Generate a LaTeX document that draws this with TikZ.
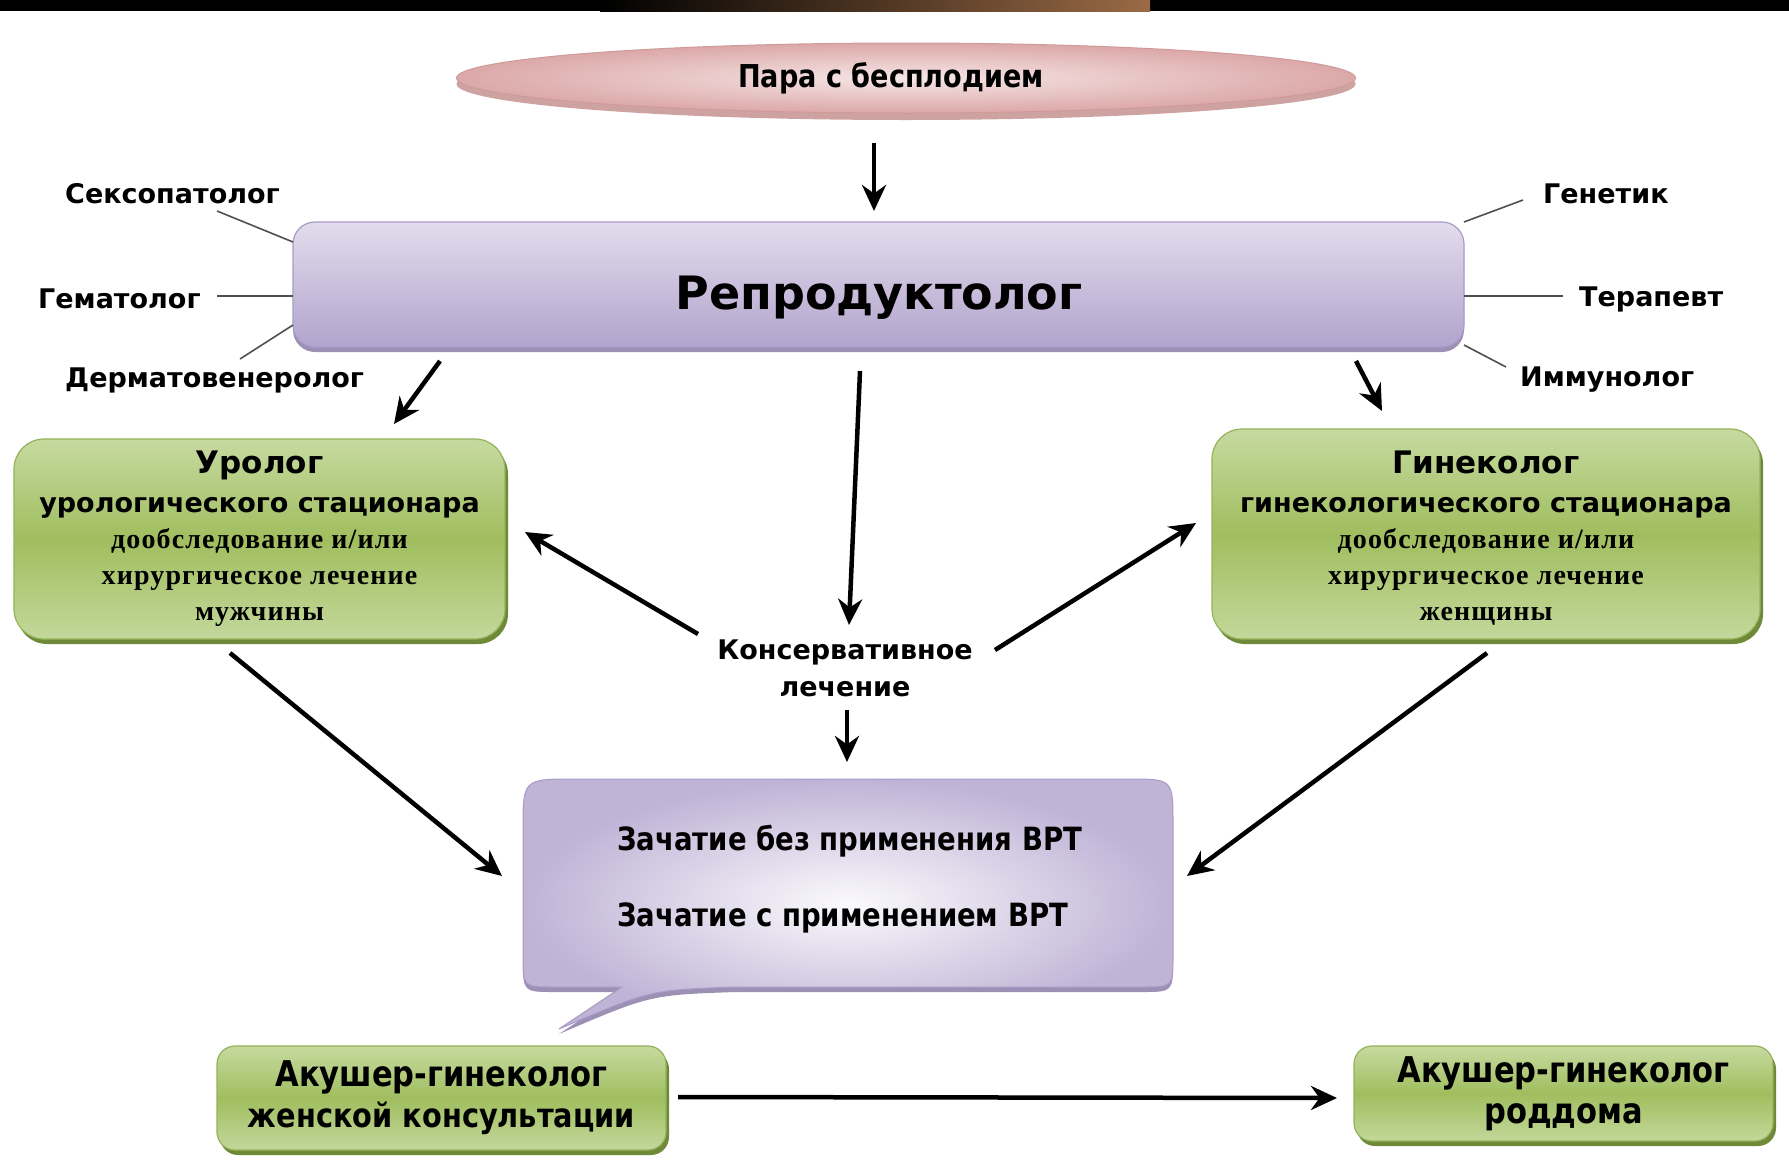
\documentclass[tikz,border=0pt]{standalone}
\usepackage{fontspec}
\setmainfont{DejaVu Sans}
\newfontfamily\condf[FakeStretch=0.86]{DejaVu Sans}
\newfontfamily\serf[LetterSpace=4]{Liberation Serif}
\usetikzlibrary{arrows.meta,shadows,shapes.geometric}
\definecolor{pborder}{HTML}{A99BC8}
\definecolor{ptop}{HTML}{E2DCEC}
\definecolor{pbot}{HTML}{B2A4CD}
\definecolor{pshadow}{HTML}{9C90B5}
\definecolor{bout}{HTML}{BFB3D6}
\definecolor{gtop}{HTML}{C6DAA0}
\definecolor{gmid}{HTML}{A0BE5F}
\definecolor{gbot}{HTML}{C3D89B}
\definecolor{gborder}{HTML}{94B35A}
\definecolor{gshadow}{HTML}{6E8A38}
\definecolor{einner}{HTML}{F6E6E6}
\definecolor{eouter}{HTML}{DCA8A8}
\definecolor{eborder}{HTML}{CF9A9A}
\definecolor{erim}{HTML}{CFA2A2}
\definecolor{connc}{HTML}{505050}
\definecolor{bandbrown}{HTML}{9A6A45}
\newcommand{\lblf}{\bfseries\fontsize{27}{32}\selectfont}
\newcommand{\ttlf}{\bfseries\fontsize{31}{37}\selectfont}
\newcommand{\subf}{\bfseries\fontsize{27}{37}\selectfont}
\newcommand{\serff}{\serf\bfseries\fontsize{28}{36}\selectfont}
\begin{document}
\begin{tikzpicture}[x=1pt,y=-1pt,
  lbl/.style={font=\lblf, inner sep=0pt},
  greenbox/.style={draw=gborder, line width=1.2pt, rounded corners=30pt,
    top color=gtop, bottom color=gbot, middle color=gmid,
    drop shadow={shadow xshift=3pt, shadow yshift=-5pt, fill=gshadow, opacity=1},
    inner sep=0pt, align=center, font=\fontsize{27}{36}\selectfont},
  arr/.style={line width=4.5pt, -{Stealth[length=26pt,width=24pt]}},
  conn/.style={draw=connc, line width=1.6pt},
  condtext/.style={font=\condf\bfseries\fontsize{32}{37}\selectfont, inner sep=0pt}
]
\useasboundingbox (0,0) rectangle (1789,1173);
\fill[white] (0,0) rectangle (1789,1173);
% top dark band
\fill[black] (0,0) rectangle (1789,11);
\shade[left color=black, right color=bandbrown] (600,0) rectangle (1150,11);

% ellipse
\fill[erim] (906,84) ellipse [x radius=449.5, y radius=36];
\node[ellipse, draw=eborder, line width=1pt, inner color=einner, outer color=eouter,
  minimum width=899pt, minimum height=70pt, inner sep=0pt] (couple) at (906,78) {};
\node[font=\condf\bfseries\fontsize{31.5}{36}\selectfont, inner sep=0pt] (coupletext) at (891,78) {Пара с бесплодием};

% reproductologist
\node[draw=pborder, line width=1.2pt, rounded corners=22pt, top color=ptop, bottom color=pbot,
  drop shadow={shadow xshift=0pt, shadow yshift=-5pt, fill=pshadow, opacity=1},
  minimum width=1171pt, minimum height=125pt, inner sep=0pt] (repro) at (878.5,284.5) {};
\node[font=\bfseries\fontsize{46}{52}\selectfont, inner sep=0pt] (reprotext) at (879,298) {Репродуктолог};

% side labels
\node[lbl, anchor=west] (sexo) at (65,194) {Сексопатолог};
\node[lbl, anchor=west] (gema) at (38,299) {Гематолог};
\node[lbl, anchor=west] (derm) at (65,380) {Дерматовенеролог};
\node[lbl, anchor=west] (gene) at (1543,194) {Генетик};
\node[lbl, anchor=west] (tera) at (1579,299) {Терапевт};
\node[lbl, anchor=west] (immu) at (1520,380) {Иммунолог};

\coordinate (c1a) at (217,211); \coordinate (c1b) at (293,242);
\coordinate (c2a) at (217,296); \coordinate (c2b) at (293,296);
\coordinate (c3a) at (240,359); \coordinate (c3b) at (293,325);
\coordinate (c4a) at (1523,200); \coordinate (c4b) at (1464,222);
\coordinate (c5a) at (1563,296); \coordinate (c5b) at (1464,296);
\coordinate (c6a) at (1506,367); \coordinate (c6b) at (1464,345);
\draw[conn] (c1a) -- (c1b);
\draw[conn] (c2a) -- (c2b);
\draw[conn] (c3a) -- (c3b);
\draw[conn] (c4a) -- (c4b);
\draw[conn] (c5a) -- (c5b);
\draw[conn] (c6a) -- (c6b);

% green boxes
\node[greenbox, minimum width=491pt, minimum height=200pt] (urolog) at (259.5,539)
 {\ttlf Уролог\\[3pt] \subf урологического стационара\\ \serff дообследование и/или\\ \serff хирургическое лечение\\ \serff мужчины};
\node[greenbox, minimum width=548pt, minimum height=210pt] (gyn) at (1486,534) {};
\node[inner sep=0pt, align=center, font=\fontsize{27}{36}\selectfont] (gyntext) at (1486,538)
 {\ttlf Гинеколог\\[3pt] \subf гинекологического стационара\\ \serff дообследование и/или\\ \serff хирургическое лечение\\ \serff женщины};

% conservative
\node[font=\bfseries\fontsize{27}{37}\selectfont, align=center, inner sep=0pt] (cons) at (845,668) {Консервативное\\лечение};

% bubble
\fill[pshadow] (523,836) .. controls (523,784) .. (575,784) -- (1128,784) .. controls (1173,784) .. (1173,829) -- (1173,960) .. controls (1173,992) .. (1141,992) -- (735,992) .. controls (650,995) .. (559,1034) -- (622,992) -- (555,992) .. controls (523,992) .. (523,960) -- cycle;
\shade[inner color=white!85!ptop, outer color=bout, draw=pborder, line width=1pt]
 (523,830) .. controls (523,779) .. (575,779) -- (1128,779) .. controls (1173,779) .. (1173,824) -- (1173,955) .. controls (1173,987) .. (1141,987) -- (735,987) .. controls (650,990) .. (559,1029) -- (622,987) -- (555,987) .. controls (523,987) .. (523,955) -- cycle;
\node[condtext, anchor=west] (zach1) at (617,841) {Зачатие без применения ВРТ};
\node[condtext, anchor=west] (zach2) at (617,918) {Зачатие с применением ВРТ};

% bottom boxes
\node[greenbox, rounded corners=18pt, minimum width=449pt, minimum height=104pt,
  font=\condf\bfseries\fontsize{35.5}{41}\selectfont] (ak1) at (441.5,1098) {Акушер-гинеколог\\\fontsize{33.5}{41}\selectfont женской консультации};
\node[greenbox, rounded corners=18pt, minimum width=419pt, minimum height=95pt,
  font=\condf\bfseries\fontsize{35.5}{41}\selectfont] (ak2) at (1563.5,1093.5) {Акушер-гинеколог\\роддома};

% arrows
\coordinate (a0s) at (874,143); \coordinate (a0e) at (874,211);
\coordinate (a1s) at (440,361); \coordinate (a1e) at (394,424);
\coordinate (a2s) at (1356,361); \coordinate (a2e) at (1382,411);
\coordinate (a3s) at (860,371); \coordinate (a3e) at (849,625);
\coordinate (a4s) at (698,634); \coordinate (a4e) at (525,532);
\coordinate (a5s) at (995,650); \coordinate (a5e) at (1196,523);
\coordinate (a6s) at (847,710); \coordinate (a6e) at (847,762);
\coordinate (a7s) at (230,653); \coordinate (a7e) at (502,876);
\coordinate (a8s) at (1487,653); \coordinate (a8e) at (1187,876);
\coordinate (a9s) at (678,1097); \coordinate (a9e) at (1337,1098);
\draw[arr] (a0s) -- (a0e);
\draw[arr] (a1s) -- (a1e);
\draw[arr] (a2s) -- (a2e);
\draw[arr] (a3s) -- (a3e);
\draw[arr] (a4s) -- (a4e);
\draw[arr] (a5s) -- (a5e);
\draw[arr] (a6s) -- (a6e);
\draw[arr] (a7s) -- (a7e);
\draw[arr] (a8s) -- (a8e);
\draw[arr] (a9s) -- (a9e);
\end{tikzpicture}
\end{document}
